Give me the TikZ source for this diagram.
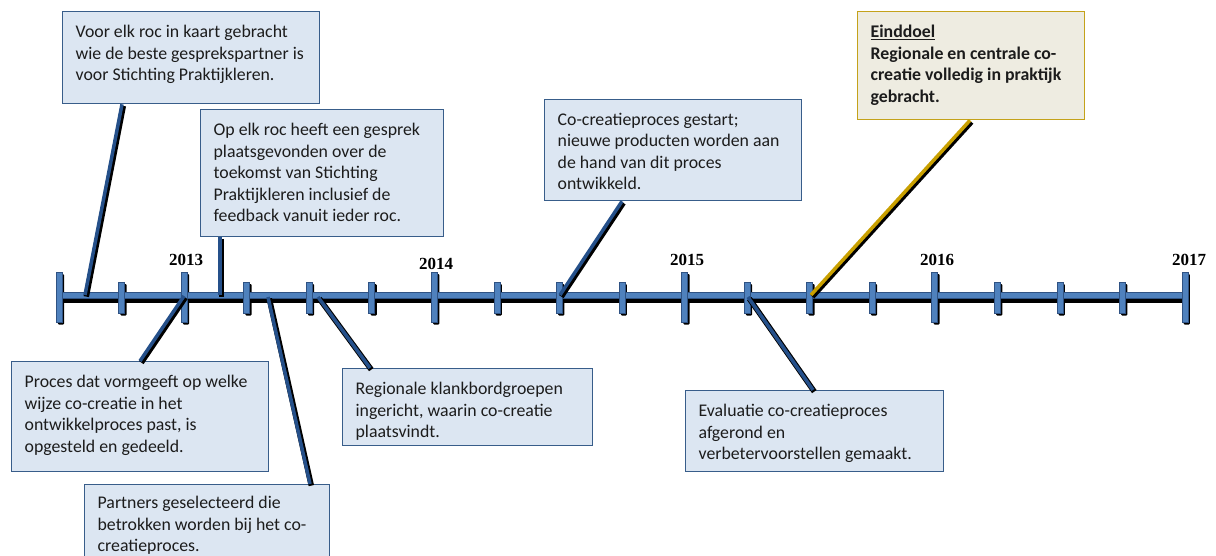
\documentclass[tikz,border=0pt]{standalone}
\usepackage{fontspec}
\setmainfont{Carlito}
\newfontfamily\yearfont{Liberation Serif}
\usetikzlibrary{calc}
\definecolor{boxfill}{HTML}{DCE6F2}
\definecolor{boxline}{HTML}{385D8A}
\definecolor{goalfill}{HTML}{EEECE1}
\definecolor{goalline}{HTML}{C4A21A}
\definecolor{barblue}{HTML}{4F81BD}
\definecolor{barline}{HTML}{2F5283}
\definecolor{conblue}{HTML}{25508A}
\definecolor{congold}{HTML}{C9A000}
\definecolor{txt}{HTML}{1C1C1C}
\newcommand\bx[3]{\parbox[t][\dimexpr #2pt-27pt\relax][t]{\dimexpr #1pt-26pt\relax}{\raggedright\fontsize{17.8}{21.5}\selectfont #3}}
\tikzset{
  tl/.style={draw=boxline, line width=1.3pt, fill=boxfill, inner xsep=13pt, inner ysep=13.5pt, anchor=north west, text=txt},
  goal/.style={tl, draw=goalline, fill=goalfill},
  year/.style={font=\yearfont\bfseries\fontsize{17}{19}\selectfont, inner sep=0pt},
  conshadow/.style={black, line width=5.5pt, transform canvas={shift={(1.3,1.6)}}},
  con/.style={conblue, line width=3.5pt},
  gold/.style={congold, line width=3.5pt}
}
\begin{document}
\begin{tikzpicture}[x=1pt,y=-1pt]
\clip (0,0) rectangle (1216,555);
\fill[white] (0,0) rectangle (1216,555);

% shadows of bar and ticks
\fill[black] (61,296) rectangle (1189,302.5);
\foreach \i in {0,...,18}{
  \pgfmathsetmacro\xx{59+62.55*\i}
  \pgfmathtruncatemacro\tall{(\i==0)||(mod(\i,4)==2)}
  \ifnum\tall=1
    \fill[black, rounded corners=1pt] (\xx-1.2,274) rectangle (\xx+5,324.5);
  \else
    \fill[black, rounded corners=1pt] (\xx-1.2,284) rectangle (\xx+5,315.5);
  \fi
}
% bar
\filldraw[fill=barblue, draw=barline, line width=0.6pt] (58,292.5) rectangle (1187,298.5);
% ticks
\foreach \i in {0,...,18}{
  \pgfmathsetmacro\xx{59+62.55*\i}
  \pgfmathtruncatemacro\tall{(\i==0)||(mod(\i,4)==2)}
  \ifnum\tall=1
    \filldraw[fill=barblue, draw=barline, line width=0.6pt] (\xx-3,272) rectangle (\xx+3,322);
  \else
    \filldraw[fill=barblue, draw=barline, line width=0.6pt] (\xx-3,282) rectangle (\xx+3,313);
  \fi
}

% year labels
\node[year] (y2013) at (186,260) {2013};
\node[year] (y2014) at (436,264) {2014};
\node[year] (y2015) at (687,260) {2015};
\node[year] (y2016) at (937,260) {2016};
\node[year] (y2017) at (1189,260) {2017};

% boxes
\node[tl] (A) at (62,11) {\bx{257}{92}{Voor elk roc in kaart gebracht\\wie de beste gesprekspartner is\\voor Stichting Praktijkleren.}};
\node[tl] (B) at (200,109) {\bx{243}{127}{Op elk roc heeft een gesprek\\plaatsgevonden over de\\toekomst van Stichting\\Praktijkleren inclusief de\\feedback vanuit ieder roc.}};
\node[tl] (C) at (544,99) {\bx{257}{101}{Co-creatieproces gestart;\\nieuwe producten worden aan\\de hand van dit proces\\ontwikkeld.}};
\node[goal] (D) at (857,11) {\bx{227}{108}{\bfseries\underline{Einddoel}\\Regionale en centrale co-\\creatie volledig in praktijk\\gebracht.}};
\node[tl] (E) at (11,361) {\bx{257}{110}{Proces dat vormgeeft op welke\\wijze co-creatie in het\\ontwikkelproces past, is\\opgesteld en gedeeld.}};
\node[tl, inner ysep=11.5pt] (F) at (84,484) {\bx{245}{86}{Partners geselecteerd die\\betrokken worden bij het co-\\creatieproces.}};
\node[tl] (G) at (342,368) {\bx{250}{77}{Regionale klankbordgroepen\\ingericht, waarin co-creatie\\plaatsvindt.}};
\node[tl] (H) at (685,390) {\bx{258}{81}{Evaluatie co-creatieproces\\afgerond en\\verbetervoorstellen gemaakt.}};

% points on the timeline
\coordinate (pA) at (85,295);
\coordinate (pB) at (220,295);
\coordinate (pC) at (560,295);
\coordinate (pD) at (811,295);
\coordinate (pE) at (184,296);
\coordinate (pF) at (268,297);
\coordinate (pG) at (318,297);
\coordinate (pH) at (748,297);

% connectors
\foreach \s/\o/\p in {A/south west/60, B/south west/20, C/south west/78, D/south west/113}{
  \draw[conshadow] ([xshift=\p pt]\s.\o) -- (p\s);
}
\foreach \s/\p in {E/129, F/226, G/28, H/128}{
  \draw[conshadow] ([xshift=\p pt]\s.north west) -- (p\s);
}
\draw[con] ([xshift=60pt]A.south west) -- (pA);
\draw[con] ([xshift=20pt]B.south west) -- (pB);
\draw[con] ([xshift=78pt]C.south west) -- (pC);
\draw[gold] ([xshift=113pt]D.south west) -- (pD);
\draw[con] ([xshift=129pt]E.north west) -- (pE);
\draw[con] ([xshift=226pt]F.north west) -- (pF);
\draw[con] ([xshift=28pt]G.north west) -- (pG);
\draw[con] ([xshift=128pt]H.north west) -- (pH);
\end{tikzpicture}
\end{document}
